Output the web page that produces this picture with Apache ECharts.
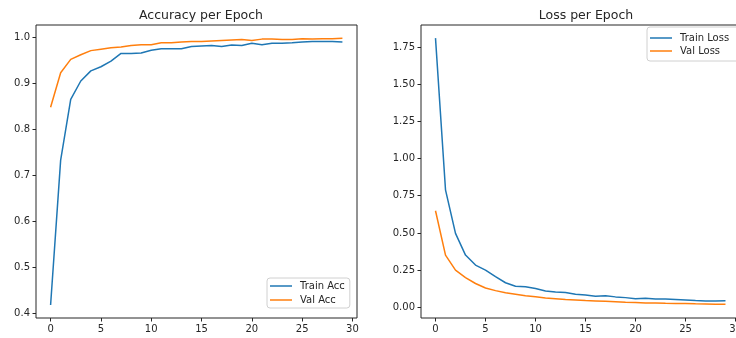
<!DOCTYPE html>
<html>
<head>
<meta charset="utf-8">
<script src="https://cdn.jsdelivr.net/npm/echarts@6/dist/echarts.min.js"></script>
<style>
  html, body { margin: 0; padding: 0; background: #fff; }
  #chart { width: 736px; height: 338px; }
</style>
</head>
<body>
<div id="chart"></div>
<script>
const epochs = [0, 1, 2, 3, 4, 5, 6, 7, 8, 9, 10, 11, 12, 13, 14, 15, 16, 17, 18, 19, 20, 21, 22, 23, 24, 25, 26, 27, 28, 29];

const trainAcc = [0.418, 0.733, 0.865, 0.905, 0.927, 0.936, 0.948, 0.965, 0.965, 0.966,
  0.972, 0.975, 0.975, 0.975, 0.980, 0.981, 0.982, 0.980, 0.983, 0.982,
  0.987, 0.984, 0.987, 0.987, 0.988, 0.990, 0.991, 0.991, 0.991, 0.990];
const valAcc = [0.848, 0.923, 0.952, 0.962, 0.971, 0.974, 0.977, 0.979, 0.982, 0.984,
  0.984, 0.988, 0.988, 0.990, 0.991, 0.991, 0.992, 0.993, 0.994, 0.995,
  0.993, 0.996, 0.996, 0.995, 0.995, 0.997, 0.996, 0.997, 0.997, 0.998];

const trainLoss = [1.81, 0.79, 0.497, 0.351, 0.284, 0.25, 0.206, 0.165, 0.141, 0.138,
  0.127, 0.11, 0.103, 0.100, 0.088, 0.083, 0.075, 0.078, 0.070, 0.065,
  0.058, 0.060, 0.056, 0.055, 0.052, 0.049, 0.045, 0.042, 0.043, 0.044];
const valLoss = [0.649, 0.351, 0.25, 0.20, 0.16, 0.13, 0.112, 0.098, 0.088, 0.078,
  0.071, 0.063, 0.058, 0.053, 0.049, 0.045, 0.043, 0.040, 0.037, 0.034,
  0.032, 0.029, 0.029, 0.027, 0.026, 0.025, 0.023, 0.022, 0.021, 0.020];

const xTicks = [0, 5, 10, 15, 20, 25, 30];
const accTicks = [0.4, 0.5, 0.6, 0.7, 0.8, 0.9, 1.0];
const lossTicks = [0, 0.25, 0.5, 0.75, 1.0, 1.25, 1.5, 1.75];

const BLUE = "#1f77b4";
const ORANGE = "#ff7f0e";
const FONT = "DejaVu Sans";
const ink = "#262626";

const pairs = (ys) => epochs.map((e, i) => [e, ys[i]]);

function xAxisFor(gridIndex) {
  return {
    type: "value",
    gridIndex,
    min: -1.45,
    max: 30.45,
    splitLine: { show: false },
    axisLine: { show: false, onZero: false },
    axisTick: { show: true, customValues: xTicks, length: 3.5, lineStyle: { color: ink } },
    axisLabel: { customValues: xTicks, color: ink, fontFamily: FONT, fontSize: 10, margin: 6 },
  };
}

function yAxisFor(gridIndex, min, max, ticks, digits) {
  return {
    type: "value",
    gridIndex,
    min,
    max,
    splitLine: { show: false },
    axisLine: { show: false, onZero: false },
    axisTick: { show: true, customValues: ticks, length: 3.5, lineStyle: { color: ink } },
    axisLabel: {
      customValues: ticks,
      color: ink,
      fontFamily: FONT,
      fontSize: 10,
      margin: 6,
      formatter: (v) => v.toFixed(digits),
    },
  };
}

function line(name, data, color, idx) {
  return {
    name,
    type: "line",
    xAxisIndex: idx,
    yAxisIndex: idx,
    data: pairs(data),
    symbol: "none",
    lineStyle: { color, width: 1.5 },
    itemStyle: { color },
    silent: true,
  };
}

const legendBase = {
  orient: "vertical",
  icon: "path://M0,0H22V1.5H0Z",
  symbolKeepAspect: true,
  itemWidth: 22,
  itemHeight: 12,
  borderColor: "#d0d0d0",
  borderWidth: 1,
  borderRadius: 3,
  backgroundColor: "rgba(255,255,255,0.8)",
  textStyle: { fontFamily: FONT, fontSize: 10, color: ink, padding: [0, 0, 0, 3] },
};

const chart = echarts.init(document.getElementById("chart"), null, { renderer: "canvas" });
chart.setOption({
  animation: false,
  backgroundColor: "#fff",
  title: [
    { text: "Accuracy per Epoch", left: 196, top: 4, textAlign: "center",
      textStyle: { fontFamily: FONT, fontSize: 12.5, fontWeight: "normal", color: ink } },
    { text: "Loss per Epoch", left: 581, top: 4, textAlign: "center",
      textStyle: { fontFamily: FONT, fontSize: 12.5, fontWeight: "normal", color: ink } },
  ],
  grid: [
    { left: 36, top: 25, width: 321, height: 293, outerBoundsMode: "none", show: true, borderColor: ink, borderWidth: 1, backgroundColor: "transparent" },
    { left: 421, top: 25, width: 319, height: 293, outerBoundsMode: "none", show: true, borderColor: ink, borderWidth: 1, backgroundColor: "transparent" },
  ],
  legend: [
    Object.assign({}, legendBase, { data: ["Train Acc", "Val Acc"], left: 267, top: 278, itemGap: 4, padding: [3, 5, 3, 3] }),
    Object.assign({}, legendBase, { data: ["Train Loss", "Val Loss"], left: 647, top: 27, itemGap: 3, padding: [6, 16, 5, 3] }),
  ],
  xAxis: [xAxisFor(0), xAxisFor(1)],
  yAxis: [
    yAxisFor(0, 0.3898, 1.0267, accTicks, 1),
    yAxisFor(1, -0.072, 1.898, lossTicks, 2),
  ],
  series: [
    line("Train Acc", trainAcc, BLUE, 0),
    line("Val Acc", valAcc, ORANGE, 0),
    line("Train Loss", trainLoss, BLUE, 1),
    line("Val Loss", valLoss, ORANGE, 1),
  ],
});
</script>
</body>
</html>
